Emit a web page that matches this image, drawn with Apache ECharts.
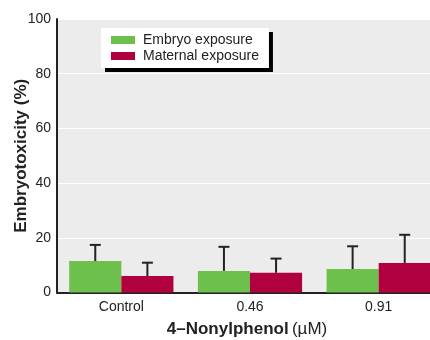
<!DOCTYPE html>
<html>
<head>
<meta charset="utf-8">
<script src="https://cdn.jsdelivr.net/npm/echarts@6/dist/echarts.min.js"></script>
<style>html,body{margin:0;padding:0;background:#fff;}#c{width:430px;height:340px;}</style>
</head>
<body>
<div id="c"></div>
<script>
const categories = ['Control', '0.46', '0.91'];
const seriesNames = ['Embryo exposure', 'Maternal exposure'];
const embryo = [11.5, 7.9, 8.6];
const embryoUpper = [17.4, 16.7, 16.9];
const maternal = [6.0, 7.2, 10.8];
const maternalUpper = [10.9, 12.4, 21.1];
const yTicks = [0, 20, 40, 60, 80, 100];

const FONT = '"Liberation Sans", Arial, sans-serif';
const GREEN = '#6cc04b';
const RED = '#b1003f';
const GAP = 0.19;

function errData(vals, upper) {
  return vals.map((v, i) => [i, upper[i], v]);
}

function errRender(side) {
  return function (params, api) {
    const band = api.size([1, 0])[0];
    const barW = band * (1 - GAP) / 2;
    const off = side * barW / 2;
    const top = api.coord([api.value(0), api.value(1)]);
    const base = api.coord([api.value(0), api.value(2)]);
    const x = top[0] + off;
    const style = { stroke: '#222', lineWidth: 2 };
    return {
      type: 'group',
      children: [
        { type: 'line', shape: { x1: x, y1: base[1], x2: x, y2: top[1] }, style: style },
        { type: 'line', shape: { x1: x - 5.5, y1: top[1], x2: x + 5.5, y2: top[1] }, style: style }
      ]
    };
  };
}

const chart = echarts.init(document.getElementById('c'), null, { renderer: 'canvas' });
chart.setOption({
  animation: false,
  textStyle: { fontFamily: FONT },
  grid: { left: 57, right: -13, top: 19, bottom: 47.5, show: true, backgroundColor: '#ececec', borderWidth: 0,
    containLabel: false, outerBoundsMode: 'none' },
  legend: {
    orient: 'vertical',
    left: 101, top: 28,
    padding: [4, 10, 4, 10],
    itemWidth: 24, itemHeight: 8, itemGap: 0,
    backgroundColor: '#fff',
    shadowColor: '#000', shadowBlur: 0, shadowOffsetX: 4, shadowOffsetY: 4,
    textStyle: { fontFamily: FONT, fontSize: 14, color: '#222', lineHeight: 16, padding: [0, 0, 0, 3] },
    data: seriesNames.map(n => ({ name: n, icon: 'rect' }))
  },
  xAxis: {
    type: 'category',
    data: categories,
    axisLine: { lineStyle: { color: '#222', width: 2 } },
    axisTick: { show: false },
    axisLabel: { fontFamily: FONT, fontSize: 14, color: '#222', margin: 8 },
    name: '{b|4–Nonylphenol} {r|(µM)}',
    nameLocation: 'middle',
    nameGap: 28,
    nameMoveOverlap: false,
    nameTextStyle: {
      padding: [0, 6, 0, 0],
      rich: {
        b: { fontFamily: FONT, fontSize: 17, fontWeight: 'bold', color: '#222' },
        r: { fontFamily: FONT, fontSize: 17, color: '#222' }
      }
    }
  },
  yAxis: {
    type: 'value',
    min: 0, max: 100, interval: 20,
    axisLine: { show: true, lineStyle: { color: '#222', width: 2 } },
    axisTick: { show: false },
    axisLabel: { fontFamily: FONT, fontSize: 14, color: '#222', margin: 6,
      formatter: v => yTicks.includes(v) ? String(v) : '' },
    splitLine: { show: true, lineStyle: { color: '#fff', width: 1 } },
    name: 'Embryotoxicity (%)',
    nameLocation: 'middle',
    nameGap: 27,
    nameMoveOverlap: false,
    nameTextStyle: { fontFamily: FONT, fontSize: 17, fontWeight: 'bold', color: '#222' }
  },
  series: [
    { name: seriesNames[0], type: 'bar', data: embryo, itemStyle: { color: GREEN },
      barGap: '0%', barCategoryGap: (GAP * 100) + '%' },
    { name: seriesNames[1], type: 'bar', data: maternal, itemStyle: { color: RED },
      barGap: '0%', barCategoryGap: (GAP * 100) + '%' },
    { type: 'custom', renderItem: errRender(-1), data: errData(embryo, embryoUpper), z: 5,
      encode: { x: 0, y: [1, 2] } },
    { type: 'custom', renderItem: errRender(1), data: errData(maternal, maternalUpper), z: 5,
      encode: { x: 0, y: [1, 2] } }
  ]
});
</script>
</body>
</html>
